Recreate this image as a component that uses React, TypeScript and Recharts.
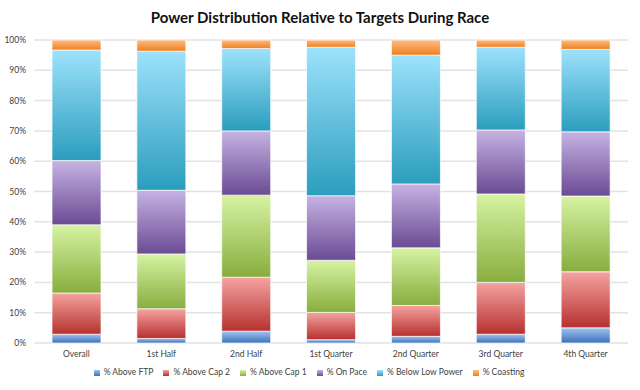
import React from "react";
import {
  BarChart,
  Bar,
  XAxis,
  YAxis,
  CartesianGrid,
  Legend,
} from "recharts";

const categories = [
  "Overall",
  "1st Half",
  "2nd Half",
  "1st Quarter",
  "2nd Quarter",
  "3rd Quarter",
  "4th Quarter",
];

const aboveFtp = [2.9, 1.5, 3.9, 1.1, 2.2, 2.9, 5.0];
const aboveCap2 = [13.6, 9.8, 17.8, 9.0, 10.2, 17.1, 18.5];
const aboveCap1 = [22.5, 18.1, 27.1, 17.2, 19.0, 29.2, 25.0];
const onPace = [21.2, 21.0, 21.2, 21.3, 21.1, 21.1, 21.2];
const belowLow = [36.5, 45.9, 27.2, 49.0, 42.5, 27.3, 27.2];
const coasting = [3.3, 3.7, 2.8, 2.4, 5.0, 2.4, 3.1];

const yTicks = [0, 0.1, 0.2, 0.3, 0.4, 0.5, 0.6, 0.7, 0.8, 0.9, 1];

const series = [
  { key: "ftp", name: "% Above FTP", values: aboveFtp, top: "#9ec4f2", bottom: "#3d70ba", icon: "#4f81c8" },
  { key: "cap2", name: "% Above Cap 2", values: aboveCap2, top: "#f5a3a1", bottom: "#b5312f", icon: "#d04f4d" },
  { key: "cap1", name: "% Above Cap 1", values: aboveCap1, top: "#d7f3a3", bottom: "#88ad3e", icon: "#9cc25a" },
  { key: "pace", name: "% On Pace", values: onPace, top: "#c6b3e2", bottom: "#6a4b94", icon: "#8466ad" },
  { key: "low", name: "% Below Low Power", values: belowLow, top: "#9de2fc", bottom: "#2b9dbd", icon: "#45b3d6" },
  { key: "coast", name: "% Coasting", values: coasting, top: "#fdbd85", bottom: "#ef7f1c", icon: "#f59240" },
];

const data = categories.map((name, i) => {
  const row: { [k: string]: number | string } = { name };
  series.forEach((s) => {
    row[s.key] = s.values[i];
  });
  return row;
});

const font = "Lato, 'Open Sans', sans-serif";

export default function App() {
  return (
    <div
      style={{
        position: "absolute",
        left: 0,
        top: 0,
        width: 640,
        height: 390,
        background: "#fff",
        fontFamily: font,
      }}
    >
      <div
        style={{
          position: "absolute",
          top: 8,
          left: 0,
          width: 640,
          textAlign: "center",
          fontSize: 15,
          fontWeight: 700,
          color: "#111",
        }}
      >
        Power Distribution Relative to Targets During Race
      </div>
      <BarChart
        width={640}
        height={390}
        data={data}
        stackOffset="expand"
        margin={{ top: 40, right: 12, bottom: 5, left: 0 }}
        barSize={49}
      >
        <defs>
          {series.map((s) => (
            <linearGradient key={s.key} id={`grad-${s.key}`} x1="0" y1="0" x2="0" y2="1">
              <stop offset="0%" stopColor={s.top} />
              <stop offset="100%" stopColor={s.bottom} />
            </linearGradient>
          ))}
        </defs>
        <CartesianGrid vertical={false} stroke="#e2e2e2" strokeWidth={1.5} />
        <XAxis
          dataKey="name"
          axisLine={false}
          tickLine={false}
          height={18}
          tick={{ fill: "#404040", fontSize: 8.5, fontFamily: font }}
        />
        <YAxis
          width={34}
          domain={[0, 1]}
          ticks={yTicks}
          tickFormatter={(v: number) => `${Math.round(v * 100)}%`}
          axisLine={false}
          tickLine={false}
          interval={0}
          tick={{ fill: "#404040", fontSize: 8.5, fontFamily: font }}
        />
        {series.map((s) => (
          <Bar
            key={s.key}
            dataKey={s.key}
            name={s.name}
            stackId="a"
            fill={`url(#grad-${s.key})`}
            stroke="#ffffff"
            strokeOpacity={0.7}
            strokeWidth={1}
            isAnimationActive={false}
          />
        ))}
        <Legend
          height={24}
          iconType="square"
          iconSize={6}
          itemSorter={(item: { value?: string }) =>
            series.findIndex((s) => s.name === item.value)
          }
          payload={series.map((s) => ({
            value: s.name,
            type: "square" as const,
            id: s.key,
            color: s.icon,
          }))}
          wrapperStyle={{ fontSize: 8.5, fontFamily: font, top: 367, paddingRight: 34 }}
          formatter={(value: string) => (
            <span style={{ color: "#404040" }}>{value}</span>
          )}
        />
      </BarChart>
    </div>
  );
}
